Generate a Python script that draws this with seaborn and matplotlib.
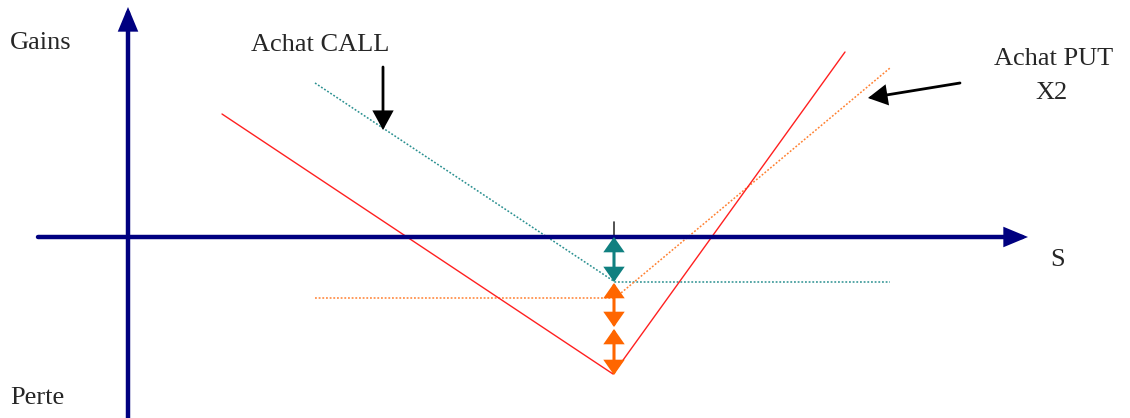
import seaborn as sns
import matplotlib.pyplot as plt
import pandas as pd

# données du schéma (unités arbitraires : S en abscisse, gain/perte en ordonnée)
call_s = [18.7, 48.7, 76.2]
call_pl = [15.4, -4.5, -4.5]
put_s = [18.7, 48.7, 76.2]
put_pl = [-6.1, -6.1, 16.9]
total_s = [9.4, 48.5, 71.7]
total_pl = [12.3, -13.7, 18.5]

strike = 48.6
prime_call = [0, -4.5]
prime_put_1 = [-4.6, -9.0]
prime_put_2 = [-9.2, -13.8]

df_call = pd.DataFrame({'S': call_s, 'PL': call_pl})
df_put = pd.DataFrame({'S': put_s, 'PL': put_pl})
df_total = pd.DataFrame({'S': total_s, 'PL': total_pl})

sns.set_style('white')
plt.rcParams['font.family'] = ['Liberation Serif', 'DejaVu Serif']

fig = plt.figure(figsize=(11.3, 4.18), dpi=100)
ax = fig.add_axes([0, 0, 1, 1])
ax.set_xlim(-12.8, 100.2)
ax.set_ylim(-18.1, 23.7)
ax.axis('off')

navy = '#000080'
# axes du graphe
fleche_axe = dict(arrowstyle='-|>,head_length=0.6,head_width=0.25',
                  color=navy, lw=3.2, shrinkA=0, shrinkB=0, mutation_scale=20,
                  joinstyle='miter')
ax.annotate('', xy=(90.0, 0), xytext=(-9.0, 0), arrowprops=fleche_axe)
ax.annotate('', xy=(0, 23.0), xytext=(0, -18.1), arrowprops=fleche_axe)

sns.lineplot(data=df_call, x='S', y='PL', ax=ax, color='#2a9090', lw=1.1,
             linestyle=(0, (1.2, 1.2)), sort=False)
sns.lineplot(data=df_put, x='S', y='PL', ax=ax, color='#ff8030', lw=1.1,
             linestyle=(0, (1.2, 1.2)), sort=False)
sns.lineplot(data=df_total, x='S', y='PL', ax=ax, color='#ff2020', lw=1.0,
             sort=False)

# repère du strike
ax.plot([strike, strike], [0, 1.5], color='#333333', lw=1.2)

def double_fleche(y, couleur):
    ax.annotate('', xy=(strike, y[1]), xytext=(strike, y[0]),
                arrowprops=dict(arrowstyle='<|-|>,head_length=0.4,head_width=0.28',
                                color=couleur, lw=2.2, shrinkA=0, shrinkB=0,
                                mutation_scale=20, joinstyle='miter'))

double_fleche(prime_call, '#108080')
double_fleche(prime_put_1, '#ff6600')
double_fleche(prime_put_2, '#ff6600')

# étiquettes
fs = 19
ax.text(-11.8, 19.4, 'Gains', fontsize=fs, va='center', ha='left')
ax.text(-11.8, -16.1, 'Perte', fontsize=fs, va='center', ha='left')
ax.text(92.2, -2.3, 'S', fontsize=fs, va='center', ha='left')
ax.text(19.2, 19.2, 'Achat CALL', fontsize=fs, va='center', ha='center')
ax.text(92.6, 17.8, 'Achat PUT', fontsize=fs, va='center', ha='center')
ax.text(92.4, 14.4, 'X2', fontsize=fs, va='center', ha='center')

fleche_noire = dict(arrowstyle='-|>,head_length=0.55,head_width=0.3',
                    color='black', lw=2.0, shrinkA=0, shrinkB=0, mutation_scale=20,
                    joinstyle='miter')
ax.annotate('', xy=(25.5, 10.7), xytext=(25.5, 17.0), arrowprops=fleche_noire)
ax.annotate('', xy=(74.0, 13.9), xytext=(83.2, 15.4), arrowprops=fleche_noire)

fig.savefig('out.png', dpi=100)
